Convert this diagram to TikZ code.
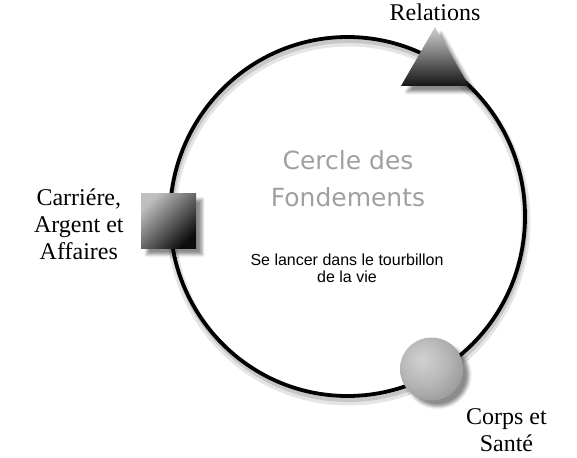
\documentclass[tikz,border=0pt]{standalone}
\usepackage{fontspec}
\setmainfont{Liberation Serif}
\newfontfamily\titlefont{DejaVu Sans}
\newfontfamily\notefont{Liberation Sans}
\usepackage{xcolor}
\definecolor{titlegray}{HTML}{A0A0A0}
\usetikzlibrary{positioning,shapes.geometric,shadows.blur}
\pgfdeclareradialshading{pearl}{\pgfpoint{-8bp}{8bp}}{%
  color(0bp)=(black!18); color(18bp)=(black!28); color(40bp)=(black!45);
  color(62bp)=(black!62); color(80bp)=(black!62)}
\tikzset{
  lbl/.style={align=center, font=\fontsize{24}{27}\selectfont, inner sep=0pt},
  mark shadow/.style={blur shadow={shadow xshift=6pt, shadow yshift=-6pt,
             shadow blur radius=3pt, shadow opacity=45}},
  ring/.style={draw, ellipse, line width=3.8pt, inner sep=0pt,
             minimum width=355pt, minimum height=359pt,
             preaction={draw=black!10, line width=9pt, transform canvas={shift={(1pt,-5pt)}}},
             preaction={draw=black!22, line width=4pt, transform canvas={shift={(1pt,-4pt)}}}},
  tribox/.style={regular polygon, regular polygon sides=3, minimum size=78.5pt,
             inner sep=0pt, top color=black!18, bottom color=black!92, mark shadow},
  sqbox/.style={rectangle, minimum size=55pt, inner sep=0pt,
             top color=black!25, bottom color=black!95, shading angle=45, mark shadow},
  ballbox/.style={circle, minimum size=63pt, inner sep=0pt, shading=pearl, mark shadow},
}
\begin{document}
\begin{tikzpicture}[x=1pt, y=-1pt]
  \useasboundingbox (0,0) rectangle (577,457);
  \node[ring] (cycle) at (347.5,216.5) {};
  \node[titlegray, align=center, font=\titlefont\fontsize{25}{37}\selectfont] (title) at (348,179) {Cercle des\\Fondements};
  \node[align=center, font=\notefont\fontsize{16}{17}\selectfont] (tag) at (347,268) {Se lancer dans le tourbillon\\de la vie};
  % the three markers on the ring
  \node[tribox] (tri) at (435,66.3) {};
  \node[sqbox] (sq) at (168.5,221) {};
  \node[ballbox] (ball) at (431.5,369) {};
  % labels
  \node[lbl, above=6pt of tri] (rel) {Relations};
  \node[lbl, left=17pt of sq, yshift=-3pt] (job) {Carriére,\\Argent et\\Affaires};
  \node[lbl, below right=17pt and 12pt of ball.south east, anchor=north west] (body) {Corps et\\Santé};
\end{tikzpicture}
\end{document}
